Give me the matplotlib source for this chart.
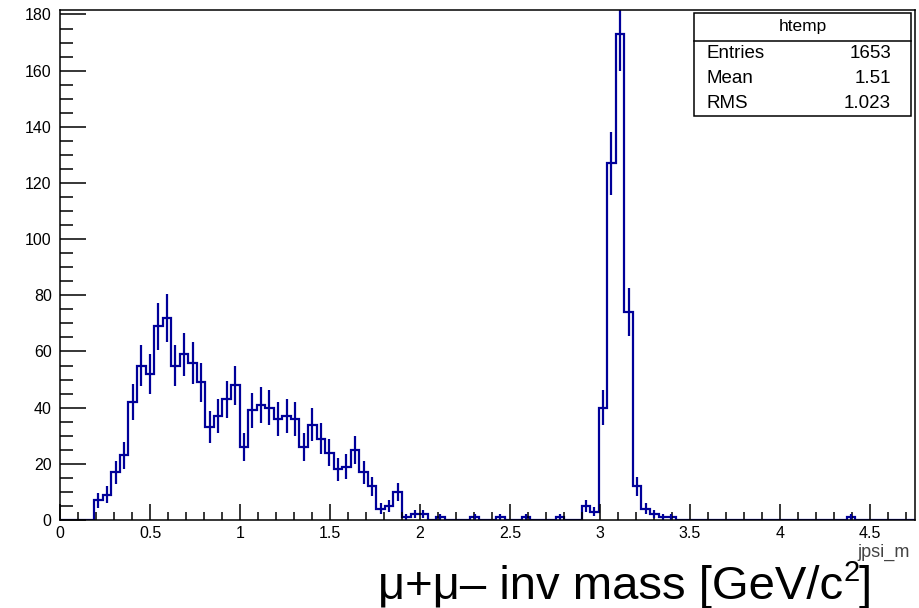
import numpy as np
import matplotlib
matplotlib.use("Agg")
import matplotlib.pyplot as plt
from matplotlib.ticker import MultipleLocator, FuncFormatter
from matplotlib.patches import Rectangle
from matplotlib.lines import Line2D

# ---- histogram content: 100 bins over [0, 4.75] of the dimuon invariant mass ----
x_min, x_max, n_bins = 0.0, 4.75, 100
counts = [
    0, 0, 0, 0, 7, 9, 17, 23, 42, 55,            # 0-9
    52, 69, 72, 55, 59, 56, 49, 33, 37, 43,      # 10-19
    48, 26, 39, 41, 40, 36, 37, 36, 26, 34,      # 20-29
    29, 24, 18, 19, 25, 17, 12, 4, 5, 10,        # 30-39
    1, 2, 2, 0, 1, 0, 0, 0, 1, 0,                # 40-49
    0, 1, 0, 0, 1, 0, 0, 0, 1, 0,                # 50-59
    0, 5, 3, 40, 127, 173, 74, 12, 4, 2,         # 60-69
    1, 1, 0, 0, 0, 0, 0, 0, 0, 0,                # 70-79
    0, 0, 0, 0, 0, 0, 0, 0, 0, 0,                # 80-89
    0, 0, 1, 0, 0, 0, 0, 0, 0, 0,                # 90-99
]
y_max = 181.6

hist_name = "htemp"
stat_labels = ["Entries", "Mean", "RMS"]
stat_values = ["1653", "1.51", "1.023"]
branch_label = "jpsi_m"
title_main, title_sup, title_end = "μ+μ– inv mass [GeV/c", "2", "]"

line_color = "#000099"

plt.rcParams["font.family"] = ["Liberation Sans", "DejaVu Sans"]

W, H = 919, 608
fig = plt.figure(figsize=(W / 100, H / 100), dpi=100)
fig.patch.set_facecolor("white")

ax_l, ax_r, ax_t, ax_b = 60, 915, 10, 520
ax = fig.add_axes([ax_l / W, 1 - ax_b / H, (ax_r - ax_l) / W, (ax_b - ax_t) / H])

counts = np.asarray(counts, dtype=float)
edges = np.linspace(x_min, x_max, n_bins + 1)
centers = 0.5 * (edges[:-1] + edges[1:])

ax.stairs(counts, edges, color=line_color, linewidth=1.6, baseline=0)
nz = counts > 0
ax.errorbar(centers[nz], counts[nz], yerr=np.sqrt(counts[nz]), fmt="none",
            ecolor=line_color, elinewidth=1.6, capsize=0)

ax.set_xlim(x_min, x_max)
ax.set_ylim(0, y_max)

ax.xaxis.set_major_locator(MultipleLocator(0.5))
ax.xaxis.set_minor_locator(MultipleLocator(0.1))
ax.yaxis.set_major_locator(MultipleLocator(20))
ax.yaxis.set_minor_locator(MultipleLocator(5))
ax.xaxis.set_major_formatter(FuncFormatter(lambda v, p: f"{v:g}"))
ax.yaxis.set_major_formatter(FuncFormatter(lambda v, p: f"{v:g}"))

ax.tick_params(axis="x", which="major", direction="in", length=11.2, width=1.1,
               labelsize=11.5, pad=4, top=False)
ax.tick_params(axis="x", which="minor", direction="in", length=5.6, width=1.1, top=False)
ax.tick_params(axis="y", which="major", direction="in", length=18.7, width=1.1,
               labelsize=11.5, pad=6, right=False)
ax.tick_params(axis="y", which="minor", direction="in", length=9.4, width=1.1, right=False)
for sp in ax.spines.values():
    sp.set_linewidth(1.1)

# branch name under the right end of the x axis
fig.text(910 / W, 1 - 552 / H, branch_label, ha="right", va="center",
         fontsize=13, color="#444444")

# large axis title, laid out right-to-left from its closing bracket
renderer = fig.canvas.get_renderer()
base_y = 1 - 599 / H
t_end = fig.text(872 / W, base_y, title_end, ha="right", va="baseline", fontsize=34)
w_end = t_end.get_window_extent(renderer).width
t_sup = fig.text((872 - w_end + 1) / W, 1 - 581 / H, title_sup, ha="right", va="baseline",
                 fontsize=21)
w_sup = t_sup.get_window_extent(renderer).width
fig.text((872 - w_end - w_sup + 1) / W, base_y, title_main, ha="right", va="baseline",
         fontsize=34)

# statistics box
bx_l, bx_r, bx_t, bx_b, bx_sep = 694, 911, 13, 116, 41
fig.patches.append(Rectangle((bx_l / W, 1 - bx_b / H), (bx_r - bx_l) / W, (bx_b - bx_t) / H,
                             transform=fig.transFigure, facecolor="white",
                             edgecolor="black", linewidth=1.1, zorder=5))
fig.lines.append(Line2D([bx_l / W, bx_r / W], [1 - bx_sep / H, 1 - bx_sep / H],
                        transform=fig.transFigure, color="black", linewidth=1.1, zorder=6))
fig.text((bx_l + bx_r) / 2 / W, 1 - 27 / H, hist_name, ha="center", va="center",
         fontsize=12.5, zorder=7)
for i, (lab, val) in enumerate(zip(stat_labels, stat_values)):
    yy = 1 - (54 + 24.5 * i) / H
    fig.text(706 / W, yy, lab, ha="left", va="center", fontsize=13.5, zorder=7)
    fig.text(891 / W, yy, val, ha="right", va="center", fontsize=13.5, zorder=7)

fig.savefig("out.png", dpi=100, facecolor="white")
